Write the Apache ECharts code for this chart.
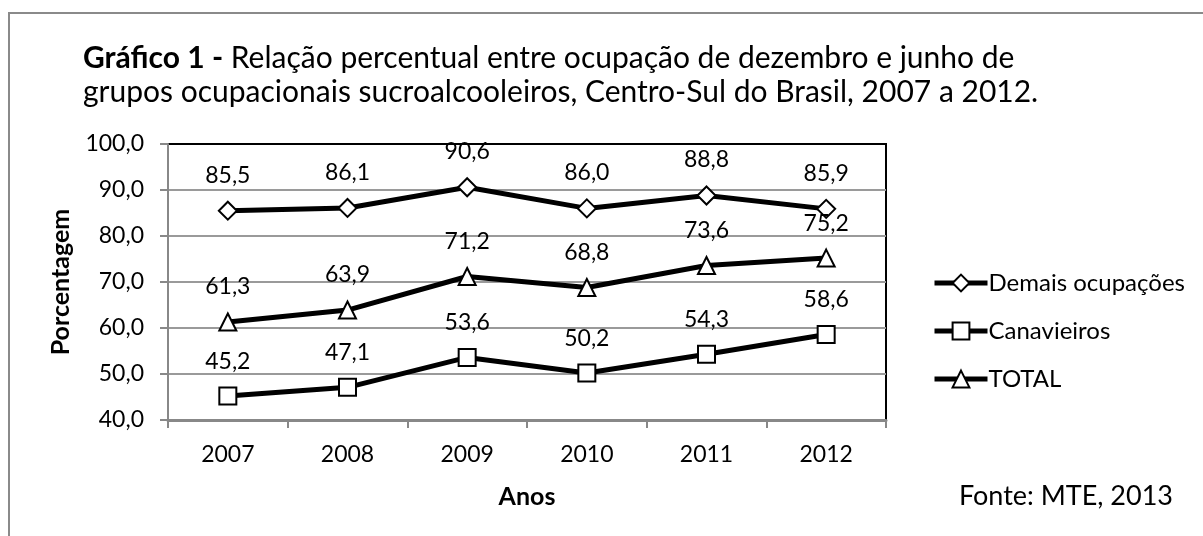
<!DOCTYPE html>
<html>
<head>
<meta charset="utf-8">
<script src="https://cdn.jsdelivr.net/npm/echarts@6/dist/echarts.min.js"></script>
<style>
  html, body { margin: 0; padding: 0; background: #fff; }
  #chart { width: 1203px; height: 536px; }
</style>
</head>
<body>
<div id="chart"></div>
<script>
const years = ["2007", "2008", "2009", "2010", "2011", "2012"];
const demais = [85.5, 86.1, 90.6, 86.0, 88.8, 85.9];
const canavieiros = [45.2, 47.1, 53.6, 50.2, 54.3, 58.6];
const total = [61.3, 63.9, 71.2, 68.8, 73.6, 75.2];

const FONT = "Lato";
const fmt = (v) => v.toFixed(1).replace(".", ",");

const chart = echarts.init(document.getElementById("chart"));

function lineSeries(name, data, symbol) {
  return {
    type: "line",
    name,
    data,
    symbol,
    symbolSize: symbol === "diamond" ? [18, 18] : 17,
    showAllSymbol: true,
    lineStyle: { color: "#000", width: 5 },
    itemStyle: { color: "#fff", borderColor: "#000", borderWidth: 2 },
    label: {
      show: true,
      position: "top",
      distance: 14,
      color: "#000",
      fontFamily: FONT,
      fontSize: 23,
      formatter: (p) => fmt(p.value),
    },
    emphasis: { disabled: true },
    z: 3,
  };
}

chart.setOption({
  animation: false,
  backgroundColor: "#fff",
  textStyle: { fontFamily: FONT, color: "#000" },
  title: {
    left: 78,
    top: 36,
    text: "{b|Gráfico 1 -} Relação percentual entre ocupação de dezembro e junho de\ngrupos ocupacionais sucroalcooleiros, Centro-Sul do Brasil, 2007 a 2012.",
    textStyle: {
      fontFamily: FONT,
      fontSize: 30,
      fontWeight: "normal",
      color: "#000",
      lineHeight: 34,
      rich: {
        b: { fontFamily: FONT, fontSize: 30, fontWeight: "bold", color: "#000", lineHeight: 34 },
      },
    },
  },
  graphic: [
    {
      type: "polyline",
      shape: { points: [[9, 536], [9, 13], [1203, 13]] },
      style: { stroke: "#8a8a8a", lineWidth: 2, fill: null },
      silent: true,
    },
    {
      type: "text",
      right: 1203 - 1173,
      top: 483,
      style: { text: "Fonte: MTE, 2013", fontFamily: FONT, fontSize: 27, fill: "#000" },
    },
  ],
  grid: {
    left: 168,
    right: 317,
    top: 144,
    bottom: 116,
    show: true,
    borderColor: "#000",
    borderWidth: 2,
    backgroundColor: "transparent",
  },
  legend: {
    orient: "vertical",
    left: 927,
    top: 266,
    itemWidth: 53,
    itemHeight: 21,
    itemGap: 24,
    lineStyle: { width: 5, color: "#000" },
    itemStyle: { color: "#fff", borderColor: "#000", borderWidth: 2 },
    textStyle: { fontFamily: FONT, fontSize: 24, color: "#000", padding: [0, 0, 0, -4] },
    data: ["Demais ocupações", "Canavieiros", "TOTAL"],
  },
  xAxis: {
    type: "category",
    data: years,
    boundaryGap: true,
    name: "Anos",
    nameLocation: "middle",
    nameGap: 64,
    nameTextStyle: { fontFamily: FONT, fontSize: 25, fontWeight: "bold", color: "#000" },
    axisLine: { lineStyle: { color: "#888", width: 3 } },
    axisTick: { show: true, length: 8, inside: false, lineStyle: { color: "#888", width: 2 } },
    axisLabel: { color: "#000", fontFamily: FONT, fontSize: 23, margin: 23 },
    splitLine: { show: false },
  },
  yAxis: {
    type: "value",
    min: 40,
    max: 100,
    interval: 10,
    name: "Porcentagem",
    nameLocation: "middle",
    nameGap: 95,
    nameRotate: 90,
    nameTextStyle: { fontFamily: FONT, fontSize: 25, fontWeight: "bold", color: "#000" },
    axisLine: { show: true, lineStyle: { color: "#888", width: 2 } },
    axisTick: { show: true, length: 8, lineStyle: { color: "#888", width: 2 } },
    axisLabel: { color: "#000", fontFamily: FONT, fontSize: 23, margin: 24, formatter: fmt },
    splitLine: { show: true, showMaxLine: false, lineStyle: { color: "#9a9a9a", width: 2 } },
  },
  series: [
    lineSeries("Demais ocupações", demais, "diamond"),
    lineSeries("Canavieiros", canavieiros, "rect"),
    lineSeries("TOTAL", total, "triangle"),
  ],
});
</script>
</body>
</html>
